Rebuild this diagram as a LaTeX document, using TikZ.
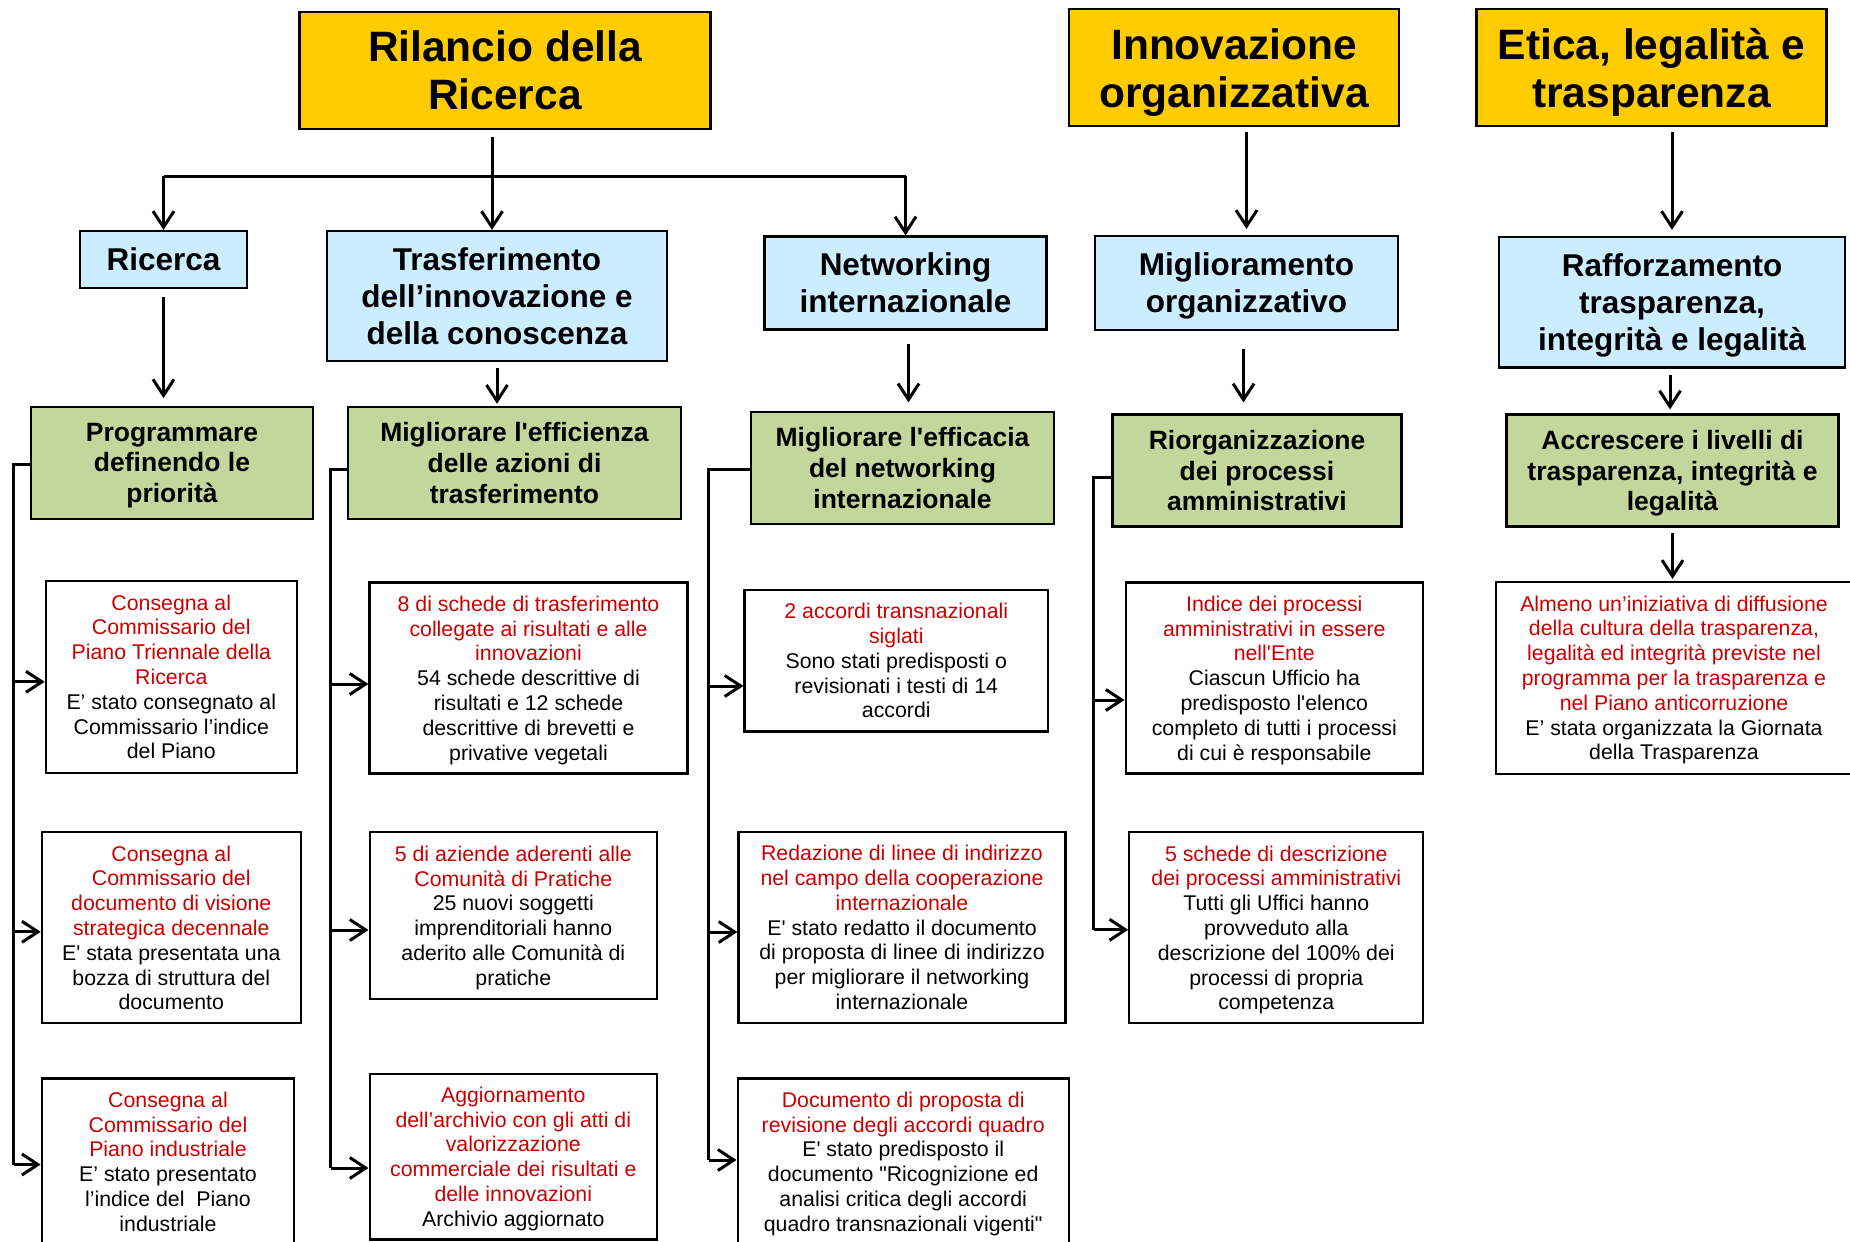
\documentclass[tikz,border=0pt]{standalone}
\usepackage{fontspec}
\newfontfamily\arialf{Liberation Sans}
\usetikzlibrary{arrows.meta}
\definecolor{cyel}{RGB}{255,204,0}
\definecolor{cblu}{RGB}{204,236,255}
\definecolor{cgrn}{RGB}{195,214,155}
\definecolor{tred}{RGB}{204,0,0}
\newcommand\rd[1]{\textcolor{tred}{#1}}
\newcommand\lst[1]{\raisebox{0pt}[\height][0pt]{#1}}
\begin{document}
\begin{tikzpicture}[x=1pt,y=-1pt,
  box/.style={draw=black,line width=2.2pt,inner sep=0pt,align=center},
  ybox/.style={box,fill=cyel,font={\arialf\bfseries\fontsize{42.5pt}{48pt}\selectfont}},
  bbox/.style={box,fill=cblu,font={\arialf\bfseries\fontsize{31.5pt}{37pt}\selectfont}},
  gbox/.style={box,fill=cgrn,font={\arialf\bfseries\fontsize{26.5pt}{30.7pt}\selectfont}},
  wbox/.style={box,fill=white,font={\arialf\fontsize{21.3pt}{24.8pt}\selectfont}},
  conn/.style={line width=3pt,line join=miter},
  arr/.style={conn,-{Straight Barb[length=16pt,width=21pt]}}]
\useasboundingbox (0,0) rectangle (1850,1242);
\fill[white] (0,0) rectangle (1850,1242);

% top level
\node[ybox,minimum width=411pt,minimum height=117pt] (ril) at (505,70.2) {Rilancio della\\\lst{Ricerca}};
\node[ybox,minimum width=330pt,minimum height=117pt] (inn) at (1234,67.8) {Innovazione\\\lst{organizzativa}};
\node[ybox,minimum width=350pt,minimum height=117pt] (eti) at (1651.5,67.8) {Etica, legalità e\\\lst{trasparenza}};

% blue
\node[bbox,minimum width=167pt,minimum height=57pt] (ric) at (163.5,259.5) {Ricerca};
\node[bbox,minimum width=340pt,minimum height=130pt] (tra) at (497,296) {Trasferimento\\dell’innovazione e\\\lst{della conoscenza}};
\node[bbox,minimum width=282pt,minimum height=93pt] (net) at (905.5,283) {Networking\\\lst{internazionale}};
\node[bbox,minimum width=303pt,minimum height=94pt] (mig) at (1246.5,283) {Miglioramento\\\lst{organizzativo}};
\node[bbox,minimum width=346pt,minimum height=130.5pt] (raf) at (1672,302.2) {Rafforzamento\\trasparenza,\\\lst{integrità e legalità}};

% green
\node[gbox,minimum width=282pt,minimum height=112pt] (prog) at (172,462.7) {Programmare\\definendo le\\\lst{priorità}};
\node[gbox,minimum width=333pt,minimum height=112pt] (eff) at (514.5,462.8) {Migliorare l'efficienza\\delle azioni di\\\lst{trasferimento}};
\node[gbox,minimum width=303pt,minimum height=112pt] (efc) at (902.5,467.8) {Migliorare l'efficacia\\del networking\\\lst{internazionale}};
\node[gbox,minimum width=289pt,minimum height=112pt] (rio) at (1257,470.5) {Riorganizzazione\\dei processi\\\lst{amministrativi}};
\node[gbox,minimum width=332pt,minimum height=112pt] (acc) at (1672.5,470.5) {Accrescere i livelli di\\trasparenza, integrità e\\\lst{legalità}};

% white column 1
\node[wbox,minimum width=251pt,minimum height=192pt] (c1a) at (171.3,676.8) {\rd{Consegna al}\\\rd{Commissario del}\\\rd{Piano Triennale della}\\\rd{Ricerca}\\E’ stato consegnato al\\Commissario l’indice\\\lst{del Piano}};
\node[wbox,minimum width=259pt,minimum height=191pt] (c1b) at (171.3,927.8) {\rd{Consegna al}\\\rd{Commissario del}\\\rd{documento di visione}\\\rd{strategica decennale}\\E' stata presentata una\\bozza di struttura del\\\lst{documento}};
\node[wbox,minimum width=252.5pt,minimum height=166pt] (c1c) at (168,1161.5) {\rd{Consegna al}\\\rd{Commissario del}\\\rd{Piano industriale}\\E’ stato presentato\\l’indice del~ Piano\\\lst{industriale}};

% white column 2
\node[wbox,minimum width=318pt,minimum height=191pt] (c2a) at (528.5,678) {\rd{8 di schede di trasferimento}\\\rd{collegate ai risultati e alle}\\\rd{innovazioni}\\54 schede descrittive di\\risultati e 12 schede\\descrittive di brevetti e\\\lst{privative vegetali}};
\node[wbox,minimum width=287.4pt,minimum height=166.6pt] (c2b) at (513.3,915.6) {\rd{5 di aziende aderenti alle}\\\rd{Comunità di Pratiche}\\25 nuovi soggetti\\imprenditoriali hanno\\aderito alle Comunità di\\\lst{pratiche}};
\node[wbox,minimum width=287.4pt,minimum height=165.8pt] (c2c) at (513.3,1156.6) {\rd{Aggiornamento}\\\rd{dell’archivio con gli atti di}\\\rd{valorizzazione}\\\rd{commerciale dei risultati e}\\\rd{delle innovazioni}\\\lst{Archivio aggiornato}};

% white column 3
\node[wbox,minimum width=303.5pt,minimum height=141.8pt] (c3a) at (896.3,660.5) {\rd{2 accordi transnazionali}\\\rd{siglati}\\Sono stati predisposti o\\revisionati i testi di 14\\\lst{accordi}};
\node[wbox,minimum width=327pt,minimum height=191pt] (c3b) at (902,927.3) {\rd{Redazione di linee di indirizzo}\\\rd{nel campo della cooperazione}\\\rd{internazionale}\\E' stato redatto il documento\\di proposta di linee di indirizzo\\per migliorare il networking\\\lst{internazionale}};
\node[wbox,minimum width=331pt,minimum height=166pt] (c3c) at (903.2,1161.5) {\rd{Documento di proposta di}\\\rd{revisione degli accordi quadro}\\E' stato predisposto il\\documento "Ricognizione ed\\analisi critica degli accordi\\\lst{quadro transnazionali vigenti"}};

% white column 4
\node[wbox,minimum width=297.4pt,minimum height=191pt] (c4a) at (1274.3,678) {\rd{Indice dei processi}\\\rd{amministrativi in essere}\\\rd{nell'Ente}\\Ciascun Ufficio ha\\predisposto l'elenco\\completo di tutti i processi\\\lst{di cui è responsabile}};
\node[wbox,minimum width=294pt,minimum height=191pt] (c4b) at (1276.3,927.8) {\rd{5 schede di descrizione}\\\rd{dei processi amministrativi}\\Tutti gli Uffici hanno\\provveduto alla\\descrizione del 100\% dei\\processi di propria\\\lst{competenza}};

% white column 5
\node[wbox,minimum width=356pt,minimum height=191.7pt] (c5a) at (1674,677.8) {\rd{Almeno un’iniziativa di diffusione}\\\rd{della cultura della trasparenza,}\\\rd{legalità ed integrità previste nel}\\\rd{programma per la trasparenza e}\\\rd{nel Piano anticorruzione}\\E’ stata organizzata la Giornata\\\lst{della Trasparenza}};

% top connectors
\coordinate (bar) at (492,176);
\draw[arr] ([yshift=-7pt]ril.south -| bar) -- (tra.north -| bar);
\draw[conn] (bar -| ric.north) -- (bar -| net.north);
\draw[arr] (bar -| ric.north) -- (ric.north);
\draw[arr] (bar -| net.north) -- (net.north);
\draw[arr] ([yshift=-5pt]inn.south -| mig.north) -- ([yshift=6pt]mig.north);
\draw[arr] ([yshift=-5pt]eti.south -| raf.north) -- ([yshift=6pt]raf.north);

% blue to green
\draw[arr] ([yshift=-8pt]ric.south) -- ([yshift=7.5pt]prog.north -| ric.south);
\draw[arr] ([yshift=-6pt]tra.south) -- ([yshift=2pt]eff.north -| tra.south);
\draw[arr] ([xshift=3pt,yshift=-13.6pt]net.south) -- ([xshift=3pt,yshift=8.4pt]efc.north -| net.south);
\draw[arr] ([xshift=-3pt,yshift=-18pt]mig.south) -- ([xshift=-3pt,yshift=11pt]rio.north -| mig.south);
\draw[arr] ([xshift=-2pt,yshift=-6.5pt]raf.south) -- ([xshift=-2pt,yshift=4pt]acc.north -| raf.south);
\draw[arr] ([yshift=-5.3pt]acc.south) -- ([yshift=2pt]c5a.north -| acc.south);

% column 1 bracket
\draw[conn] ([yshift=-2pt]prog.west) -- ++(-16,0) coordinate (v1) -- ([yshift=-3pt]c1c.west -| v1);
\draw[arr] ([yshift=-5pt]c1a.west -| v1) -- ([yshift=-5pt]c1a.west);
\draw[arr] ([yshift=-4pt]c1b.west -| v1) -- ([yshift=-4pt]c1b.west);
\draw[arr] ([yshift=-3pt]c1c.west -| v1) -- ([yshift=-3pt]c1c.west);

% column 2 bracket
\draw[conn] ([yshift=-7pt]eff.west) -- ++(-16,0) coordinate (v2) -- ([yshift=-11.4pt]c2c.west -| v2);
\draw[arr] ([yshift=-6pt]c2a.west -| v2) -- ([yshift=-6pt]c2a.west);
\draw[arr] ([yshift=-14.4pt]c2b.west -| v2) -- ([yshift=-14.4pt]c2b.west);
\draw[arr] ([yshift=-11.4pt]c2c.west -| v2) -- ([yshift=-11.4pt]c2c.west);

% column 3 bracket
\draw[conn] ([yshift=-1.8pt]efc.west) -- ++(-41,0) coordinate (v3) -- ([yshift=1.5pt]c3c.west -| v3);
\draw[arr] ([yshift=-25.5pt]c3a.west -| v3) -- ([yshift=-25.5pt]c3a.west);
\draw[arr] ([yshift=-4.7pt]c3b.west -| v3) -- ([yshift=-4.7pt]c3b.west);
\draw[arr] ([yshift=1.5pt]c3c.west -| v3) -- ([yshift=1.5pt]c3c.west);

% column 4 bracket
\draw[conn] ([yshift=-7pt]rio.west) -- ++(-17.5,0) coordinate (v4) -- ([yshift=-2pt]c4b.west -| v4);
\draw[arr] ([yshift=-22pt]c4a.west -| v4) -- ([yshift=-22pt]c4a.west);
\draw[arr] ([yshift=-2pt]c4b.west -| v4) -- ([yshift=-2pt]c4b.west);
\end{tikzpicture}
\end{document}
